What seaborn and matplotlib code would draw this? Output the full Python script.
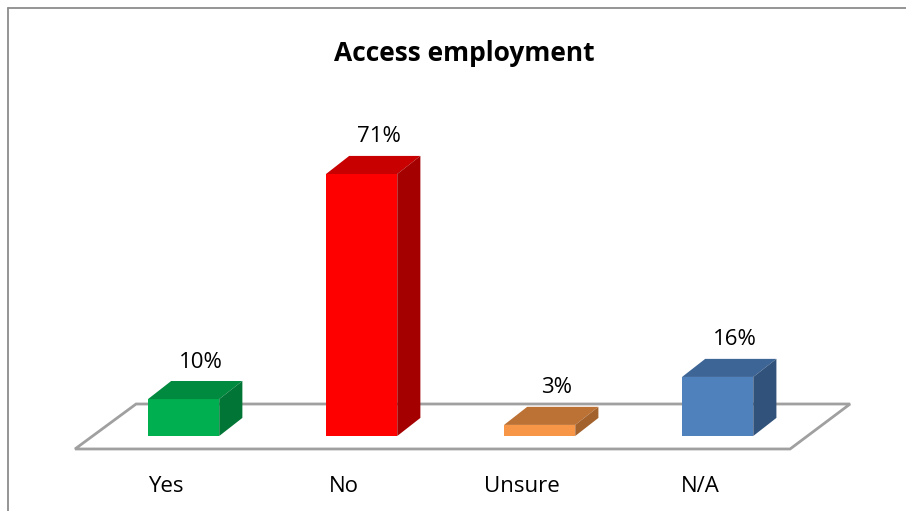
import matplotlib
matplotlib.use("Agg")
from matplotlib import pyplot as plt
from matplotlib.patches import Polygon
from matplotlib.lines import Line2D
import pandas as pd
import seaborn as sns

categories = ["Yes", "No", "Unsure", "N/A"]
values = [10, 71, 3, 16]
value_labels = ["10%", "71%", "3%", "16%"]
front_colors = ["#00B050", "#FF0000", "#F79646", "#4F81BD"]
top_colors = ["#008A40", "#C80000", "#BD7235", "#3D6596"]
side_colors = ["#007535", "#A50000", "#A3612C", "#31527A"]

sns.set_style("white")
plt.rcParams["font.family"] = ["Open Sans", "DejaVu Sans"]
plt.rcParams["text.color"] = "black"

df = pd.DataFrame({"category": categories, "value": values})

fig = plt.figure(figsize=(9.06, 5.11), dpi=100)
ax = fig.add_axes([0, 0, 1, 1])

# 3d offsets (data units)
dx, dy = 0.13, 4.9

# floor
n = len(categories)
floor = Polygon([(-0.61, -3.52), (n - 0.593, -3.52),
                 (n - 0.256, 8.67), (-0.267, 8.67)],
                closed=True, facecolor="white", edgecolor="#A0A0A0", linewidth=2, zorder=1)
ax.add_patch(floor)

sns.barplot(data=df, x="category", y="value", hue="category", palette=front_colors,
            width=0.4, legend=False, ax=ax, zorder=3, linewidth=0, saturation=1)

bars = [q for q in ax.patches if q is not floor]
for i, p in enumerate(bars):
    x0 = p.get_x()
    w = p.get_width()
    h = p.get_height()
    top = Polygon([(x0, h), (x0 + w, h), (x0 + w + dx, h + dy), (x0 + dx, h + dy)],
                  closed=True, facecolor=top_colors[i], edgecolor="none", zorder=3)
    side = Polygon([(x0 + w, 0), (x0 + w + dx, dy), (x0 + w + dx, h + dy), (x0 + w, h)],
                   closed=True, facecolor=side_colors[i], edgecolor="none", zorder=3)
    ax.add_patch(top)
    ax.add_patch(side)
    ax.text(x0 + w / 2 + dx * 0.75, h + dy + 2.3, value_labels[i], ha="center", va="bottom",
            fontsize=16, color="black")
    ax.text(i - 0.1, -15.2, categories[i], ha="center", va="baseline", fontsize=16, color="black")

ax.set_xlim(-1.0315, 4.058)
ax.set_ylim(-20.33, 118.16)
ax.axis("off")

fig.text(0.512, 0.896, "Access employment", ha="center", va="center",
         fontsize=19, fontweight="bold", color="black")

# chart border
W, H = 906, 511
fig.add_artist(Line2D([8 / W, 8 / W], [0, 1 - 8 / H], color="#8C8C8C", linewidth=1.3))
fig.add_artist(Line2D([8 / W, 1], [1 - 8 / H, 1 - 8 / H], color="#8C8C8C", linewidth=1.3))

fig.savefig("out.png", dpi=100)
